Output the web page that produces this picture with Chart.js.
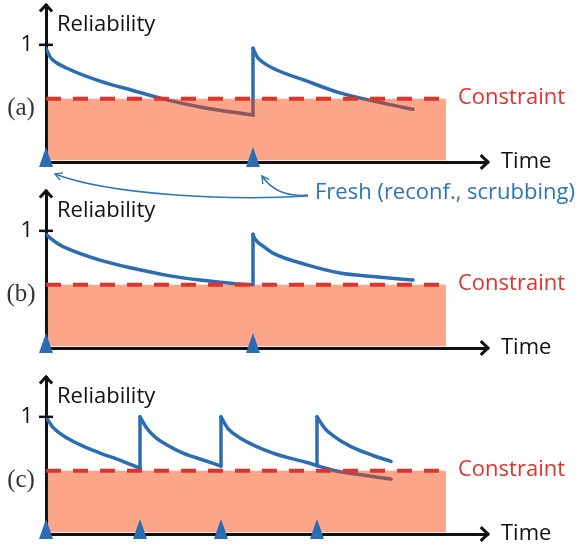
<!DOCTYPE html>
<html>
<head>
<meta charset="utf-8">
<script src="https://cdn.jsdelivr.net/npm/chart.js@4.4.1/dist/chart.umd.min.js"></script>
<style>
  html, body { margin: 0; padding: 0; background: #fff; }
  #wrap { position: relative; width: 582px; height: 549px; overflow: hidden; }
  canvas { position: absolute; left: 0; }
</style>
</head>
<body>
<div id="wrap">
  <canvas id="panelC" width="582" height="177" style="top:372px"></canvas>
  <canvas id="panelB" width="582" height="177" style="top:186px"></canvas>
  <canvas id="panelA" width="582" height="215" style="top:0px"></canvas>
</div>
<script>
// reliability threshold and end of the shaded "allowed" band (time units)
const CONSTRAINT = 0.54;
const HORIZON = 40;

// (a) one refresh, reliability dips below the constraint before it
const freshA = [0, 20.7];
const decayA1 = [[0, 0.97], [0.4, 0.90], [0.7, 0.87], [2.1, 0.80], [5.4, 0.69], [8.7, 0.61], [12.1, 0.53], [15.4, 0.47], [20.7, 0.40]];
const decayA2 = [[20.7, 0.97], [21.1, 0.90], [21.4, 0.87], [22.7, 0.80], [26.1, 0.69], [29.4, 0.59], [34.4, 0.49], [36.7, 0.45]];
const jumpsA = [[20.7, 0.40, 0.97]];

// (b) refresh exactly when the constraint is reached
const freshB = [0, 20.7];
const decayB1 = [[0, 0.97], [0.4, 0.94], [1.2, 0.89], [2.1, 0.85], [5.4, 0.75], [8.7, 0.68], [12.1, 0.62], [15.4, 0.58], [18.7, 0.55], [20.7, 0.54]];
const decayB2 = [[20.7, 0.97], [20.9, 0.93], [21.7, 0.87], [22.7, 0.81], [26.1, 0.71], [29.4, 0.64], [32.7, 0.61], [36.7, 0.58]];
const jumpsB = [[20.7, 0.54, 0.97]];

// (c) frequent refreshes
const freshC = [0, 9.4, 17.5, 27.1];
const decayC1 = [[0, 1.0], [0.7, 0.91], [2.1, 0.82], [5.4, 0.69], [7.1, 0.64], [9.4, 0.56]];
const decayC2 = [[9.4, 1.0], [10.1, 0.90], [11.0, 0.82], [12.1, 0.76], [13.7, 0.69], [15.4, 0.64], [17.5, 0.58]];
const decayC3 = [[17.5, 1.0], [18.2, 0.90], [19.4, 0.82], [22.7, 0.69], [26.1, 0.61], [28.9, 0.54], [31.1, 0.51], [34.5, 0.47]];
const decayC4 = [[27.1, 1.0], [27.9, 0.90], [28.7, 0.84], [30.4, 0.75], [32.7, 0.67], [34.5, 0.62]];
const jumpsC = [[9.4, 0.56, 1.0], [17.5, 0.58, 1.0], [27.1, 0.58, 1.0]];

const BLUE = '#2a6db5';
const RED = '#e0332b';
const INK = '#111';
const SANS = '"Open Sans", sans-serif';

function triangleMark(color) {
  const c = document.createElement('canvas');
  c.width = 14; c.height = 30;
  const g = c.getContext('2d');
  g.fillStyle = color;
  g.beginPath();
  g.moveTo(7, 0); g.lineTo(14, 20); g.lineTo(0, 20);
  g.closePath();
  g.fill();
  return c;
}

function chevron(ctx, tipX, tipY, angle, len, spread) {
  ctx.beginPath();
  ctx.moveTo(tipX - len * Math.cos(angle - spread), tipY - len * Math.sin(angle - spread));
  ctx.lineTo(tipX, tipY);
  ctx.lineTo(tipX - len * Math.cos(angle + spread), tipY - len * Math.sin(angle + spread));
  ctx.stroke();
}

// axes arrows, the tick at 1 and the labels
const decor = {
  id: 'decor',
  afterDraw(chart, args, o) {
    const { ctx, chartArea: { left, right, top, bottom }, scales: { x, y } } = chart;
    ctx.save();
    ctx.strokeStyle = INK;
    ctx.lineWidth = 3;
    ctx.lineJoin = 'miter';
    chevron(ctx, left, top, -Math.PI / 2, 9, 0.75);
    chevron(ctx, right, bottom, 0, 10, 0.75);

    const y1 = y.getPixelForValue(1);
    ctx.lineWidth = 2.5;
    ctx.beginPath(); ctx.moveTo(left - 7, y1); ctx.lineTo(left + 7, y1); ctx.stroke();

    ctx.fillStyle = INK;
    ctx.font = '22px ' + SANS;
    ctx.textBaseline = 'alphabetic';
    ctx.textAlign = 'left';
    ctx.fillText('Reliability', left + 11, top + 26);
    ctx.fillText('Time', right + 13, bottom + 6);

    const yc = y.getPixelForValue(CONSTRAINT);
    ctx.fillStyle = RED;
    ctx.textBaseline = 'middle';
    ctx.fillText('Constraint', x.getPixelForValue(HORIZON) + 12, yc - 1);

    ctx.fillStyle = '#333';
    ctx.font = '25px "Liberation Serif", serif';
    ctx.textAlign = 'center';
    ctx.fillText(o.tag, 21, yc + 10);
    ctx.restore();
  }
};

// callout pointing at the refresh marks
const freshNote = {
  id: 'freshNote',
  afterDraw(chart, args, o) {
    if (!o.times) return;
    const { ctx, chartArea: { bottom }, scales: { x } } = chart;
    const tx = 315, ty = bottom + 31;
    ctx.save();
    ctx.fillStyle = '#2e75b6';
    ctx.font = '22px ' + SANS;
    ctx.textBaseline = 'middle';
    ctx.fillText('Fresh (reconf., scrubbing)', tx, ty);

    ctx.strokeStyle = '#2e75b6';
    ctx.lineWidth = 1.4;
    const p0 = [x.getPixelForValue(o.times[0]) + 9, bottom + 12];
    const p1 = [x.getPixelForValue(o.times[1]) + 9, bottom + 14];

    ctx.beginPath();
    ctx.moveTo(tx - 7, ty + 3);
    ctx.bezierCurveTo(230, ty + 8, 110, ty + 2, p0[0], p0[1]);
    ctx.stroke();
    chevron(ctx, p0[0], p0[1], Math.atan2(p0[1] - (ty + 2), p0[0] - 110), 8, 0.5);

    ctx.beginPath();
    ctx.moveTo(tx - 7, ty + 2);
    ctx.quadraticCurveTo(p1[0] + 15, ty + 5, p1[0], p1[1]);
    ctx.stroke();
    chevron(ctx, p1[0], p1[1], Math.atan2(p1[1] - (ty + 5), -15), 8, 0.5);
    ctx.restore();
  }
};

function pts(arr) { return arr.map(([x, y]) => ({ x, y })); }

function buildPanel(id, tag, curves, jumps, fresh, padBottom, note) {
  const mark = triangleMark(BLUE);
  const datasets = [];
  curves.forEach(c => datasets.push({
    data: pts(c), borderColor: BLUE, borderWidth: 3.5, pointRadius: 0,
    cubicInterpolationMode: 'monotone', borderCapStyle: 'round', fill: false, order: 3
  }));
  jumps.forEach(([t, lo, hi]) => datasets.push({
    data: [{ x: t, y: lo }, { x: t, y: hi }], borderColor: BLUE, borderWidth: 3.5,
    pointRadius: 0, borderCapStyle: 'round', fill: false, order: 3
  }));
  // shaded band below the constraint, drawn over the curves
  datasets.push({
    data: [{ x: 0.15, y: CONSTRAINT }, { x: HORIZON, y: CONSTRAINT }],
    borderWidth: 0, pointRadius: 0, backgroundColor: 'rgba(249,64,2,0.47)',
    fill: { value: 0.015 }, order: 2
  });
  datasets.push({
    data: [{ x: 0, y: CONSTRAINT }, { x: HORIZON - 0.2, y: CONSTRAINT }],
    borderColor: RED, borderWidth: 4, borderDash: [15, 12], pointRadius: 0, fill: false, order: 1
  });
  // refresh marks; the image carries the size, radius only keeps layout padding small
  datasets.push({
    data: fresh.map(t => ({ x: t, y: 0 })), showLine: false,
    pointStyle: mark, pointRadius: 1, clip: false, order: 0
  });

  return new Chart(document.getElementById(id), {
    type: 'line',
    data: { datasets },
    options: {
      responsive: false,
      animation: false,
      events: [],
      layout: { padding: { left: 0, right: 94, top: 3, bottom: padBottom } },
      plugins: {
        legend: { display: false },
        tooltip: { enabled: false },
        decor: { tag },
        freshNote: { times: note ? fresh : null }
      },
      scales: {
        x: {
          type: 'linear', min: 0, max: 44.2,
          afterFit: s => { s.height = 0; s.paddingLeft = 0; s.paddingRight = 0; },
          ticks: { display: false },
          grid: { display: false },
          border: { display: true, color: INK, width: 3 }
        },
        y: {
          type: 'linear', min: 0, max: 1.34,
          afterFit: s => { s.width = 46; s.paddingTop = 0; s.paddingBottom = 0; },
          afterBuildTicks: s => { s.ticks = [{ value: 1 }]; },
          ticks: { font: { family: SANS, size: 22 }, color: INK, padding: 13 },
          grid: { display: false, drawTicks: false },
          border: { display: true, color: INK, width: 3 }
        }
      }
    },
    plugins: [decor, freshNote]
  });
}

Promise.all([
  document.fonts.load('22px "Open Sans"'),
  document.fonts.load('25px "Liberation Serif"')
]).catch(() => {}).then(() => {
  buildPanel('panelA', '(a)', [decayA1, decayA2], jumpsA, freshA, 53, true);
  buildPanel('panelB', '(b)', [decayB1, decayB2], jumpsB, freshB, 15, false);
  buildPanel('panelC', '(c)', [decayC1, decayC2, decayC3, decayC4], jumpsC, freshC, 15, false);
});
</script>
</body>
</html>
